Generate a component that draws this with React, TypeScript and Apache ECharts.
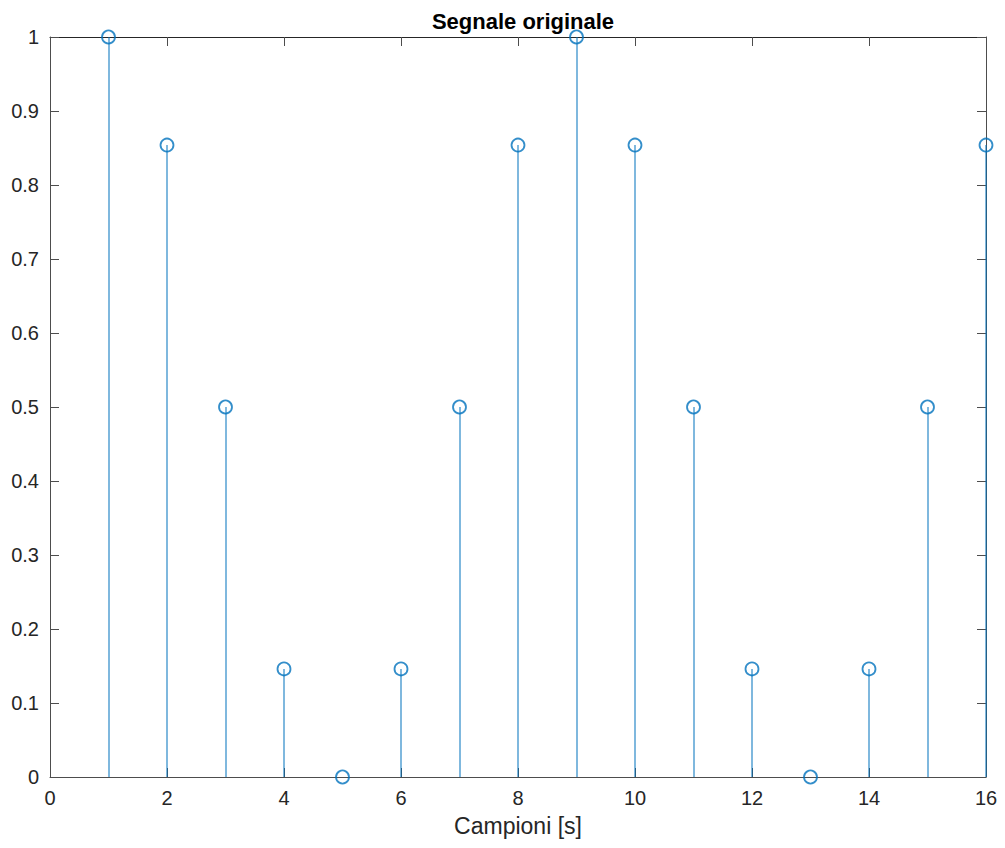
import React, { useEffect, useRef } from "react";
import * as echarts from "echarts";

const samples = [1, 2, 3, 4, 5, 6, 7, 8, 9, 10, 11, 12, 13, 14, 15, 16];
const values = [1, 0.854, 0.5, 0.146, 0, 0.146, 0.5, 0.854, 1, 0.854, 0.5, 0.146, 0, 0.146, 0.5, 0.854];
const titleText = "Segnale originale";
const xLabel = "Campioni [s]";

const BLUE = "#0072BD";
const AXIS = "#4d4d4d";
const TEXT = "#262626";
const FONT = "Liberation Sans, Arial, Helvetica, sans-serif";

export default function App() {
  const ref = useRef<HTMLDivElement>(null);
  useEffect(() => {
    if (!ref.current) return;
    const chart = echarts.init(ref.current, undefined, { renderer: "svg" });
    const pts = samples.map((s, i) => [s, values[i]]);
    const axisCommon = {
      axisLine: { show: true, onZero: false, lineStyle: { color: AXIS, width: 1 } },
      axisTick: { show: true, inside: true, length: 9, lineStyle: { color: AXIS, width: 1 } },
      splitLine: { show: false },
    };
    chart.setOption({
      animation: false,
      backgroundColor: "#ffffff",
      title: {
        text: titleText,
        left: 518,
        textAlign: "center",
        top: 5,
        textStyle: { fontFamily: FONT, fontSize: 22, fontWeight: "bold", color: "#000" },
      },
      grid: { left: 50, right: 19, top: 37, bottom: 71, containLabel: false },
      xAxis: [
        {
          type: "value",
          min: 0,
          max: 16,
          interval: 2,
          ...axisCommon,
          axisLabel: { fontFamily: FONT, fontSize: 20, color: TEXT, margin: 11 },
          name: xLabel,
          nameLocation: "middle",
          nameGap: 37,
          nameTextStyle: { fontFamily: FONT, fontSize: 23, color: TEXT },
        },
        {
          type: "value",
          position: "top",
          min: 0,
          max: 16,
          interval: 2,
          ...axisCommon,
          axisLine: { show: true, onZero: false, lineStyle: { color: "#262626", width: 1 } },
          axisLabel: { show: false },
        },
      ],
      yAxis: [
        {
          type: "value",
          min: 0,
          max: 1,
          interval: 0.1,
          ...axisCommon,
          axisLabel: { fontFamily: FONT, fontSize: 20, color: TEXT, margin: 11 },
        },
        {
          type: "value",
          position: "right",
          min: 0,
          max: 1,
          interval: 0.1,
          ...axisCommon,
          axisLabel: { show: false },
        },
      ],
      series: [
        {
          type: "custom",
          data: pts,
          renderItem: (params: any, api: any) => {
            const x = api.value(0);
            const y = api.value(1);
            const p1 = api.coord([x, 0]);
            const p2 = api.coord([x, y]);
            const cx = Math.round(p1[0]);
            return {
              type: "rect",
              shape: { x: cx - 0.5, y: p2[1], width: 1, height: p1[1] - p2[1] },
              style: { fill: BLUE, stroke: null },
            };
          },
          z: 3,
        },
        {
          type: "scatter",
          data: pts,
          symbol: "circle",
          symbolSize: 13,
          itemStyle: { color: "rgba(0,0,0,0)", borderColor: BLUE, borderWidth: 1.8 },
          z: 4,
        },
      ],
    });
    return () => chart.dispose();
  }, []);
  return (
    <div
      ref={ref}
      style={{ position: "fixed", left: 0, top: 0, width: 1005, height: 848 }}
    />
  );
}
